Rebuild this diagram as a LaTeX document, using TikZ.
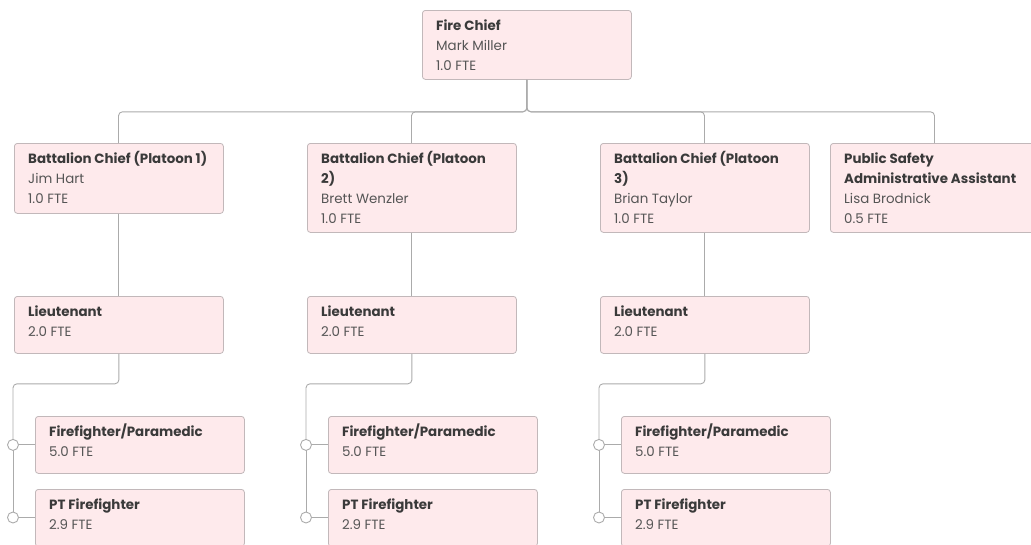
\documentclass[tikz,border=0pt]{standalone}
\usepackage{fontspec}
\setmainfont{Poppins}
\usetikzlibrary{calc}
\definecolor{cardfill}{HTML}{FEEAEC}
\definecolor{cardline}{HTML}{C2B8BA}
\definecolor{wire}{HTML}{ABABAB}
\definecolor{inkbold}{HTML}{3A3A3A}
\definecolor{inkreg}{HTML}{555555}
\tikzset{
  x=1pt, y=-1pt,
  card/.style={draw=cardline, fill=cardfill, rounded corners=3pt, line width=0.8pt,
    anchor=north west, minimum width=209pt, inner sep=0pt, rectangle},
  cardtxt/.style={anchor=north west, align=left, inner sep=0pt, text=inkreg,
    font=\fontsize{13.4}{20}\selectfont},
  wireline/.style={draw=wire, line width=0.9pt, rounded corners=4pt},
  knob/.style={circle, draw=wire, fill=white, line width=0.9pt, minimum size=11pt, inner sep=0pt},
}
\newcommand{\hd}[1]{\textcolor{inkbold}{\textbf{#1}}}
\begin{document}
\begin{tikzpicture}
\useasboundingbox (0,0) rectangle (1031,544);
\fill[white] (0,0) rectangle (1031,544);
\clip (0,0) rectangle (1031,544);

% cards
\node[card, minimum height=69pt] (chief) at (422,10) {};
\node[card, minimum height=70pt] (bc1) at (14,143) {};
\node[card, minimum height=89pt] (bc2) at (307,143) {};
\node[card, minimum height=89pt] (bc3) at (600,143) {};
\node[card, minimum height=89pt] (psaa) at (830,143) {};
\node[card, minimum height=57pt] (lt1) at (14,296) {};
\node[card, minimum height=57pt] (lt2) at (307,296) {};
\node[card, minimum height=57pt] (lt3) at (600,296) {};
\node[card, minimum height=57pt] (ff1) at (35,416) {};
\node[card, minimum height=57pt] (ff2) at (328,416) {};
\node[card, minimum height=57pt] (ff3) at (621,416) {};
\node[card, minimum height=57pt] (pt1) at (35,489) {};
\node[card, minimum height=57pt] (pt2) at (328,489) {};
\node[card, minimum height=57pt] (pt3) at (621,489) {};

% card texts
\node[cardtxt] (chief-t) at ($(chief.north west)+(14,6)$) {\strut\hd{Fire Chief}\\Mark Miller\\1.0 FTE};
\node[cardtxt] (bc1-t) at ($(bc1.north west)+(14,6)$) {\strut\hd{Battalion Chief (Platoon 1)}\\Jim Hart\\1.0 FTE};
\node[cardtxt] (bc2-t) at ($(bc2.north west)+(14,6)$) {\strut\hd{Battalion Chief (Platoon}\\\hd{2)}\\Brett Wenzler\\1.0 FTE};
\node[cardtxt] (bc3-t) at ($(bc3.north west)+(14,6)$) {\strut\hd{Battalion Chief (Platoon}\\\hd{3)}\\Brian Taylor\\1.0 FTE};
\node[cardtxt] (psaa-t) at ($(psaa.north west)+(14,6)$) {\strut\hd{Public Safety}\\\hd{Administrative Assistant}\\Lisa Brodnick\\0.5 FTE};
\foreach \n in {lt1,lt2,lt3}
  \node[cardtxt] (\n-t) at ($(\n.north west)+(14,6)$) {\strut\hd{Lieutenant}\\2.0 FTE};
\foreach \n in {ff1,ff2,ff3}
  \node[cardtxt] (\n-t) at ($(\n.north west)+(14,6)$) {\strut\hd{Firefighter/Paramedic}\\5.0 FTE};
\foreach \n in {pt1,pt2,pt3}
  \node[cardtxt] (\n-t) at ($(\n.north west)+(14,6)$) {\strut\hd{PT Firefighter}\\2.9 FTE};

% chief to second tier
\foreach \c in {bc1,bc2,bc3,psaa}
  \draw[wireline] (chief.south) -- ++(0,32) -| ($(\c.north west)+(104.5,0)$);

% battalion chiefs to lieutenants
\draw[wireline] (bc1.south) -- (lt1.north);
\draw[wireline] (bc2.south) -- (lt2.north);
\draw[wireline] (bc3.south) -- (lt3.north);

% lieutenants to crews
\foreach \l/\f/\p in {lt1/ff1/pt1, lt2/ff2/pt2, lt3/ff3/pt3}{
  \coordinate (\f-k) at ($(\f.west)+(-22,0)$);
  \coordinate (\p-k) at ($(\p.north west)+(-22,28.5)$);
  \draw[wireline] (\l.south) -- ++(0,30) -| (\f-k);
  \draw[wireline] (\f-k) -- (\p-k);
  \draw[wireline] (\f-k) -- (\f.west);
  \draw[wireline] (\p-k) -- ($(\p.north west)+(0,28.5)$);
  \node[knob] (\f-c) at (\f-k) {};
  \node[knob] (\p-c) at (\p-k) {};
}
\end{tikzpicture}
\end{document}
